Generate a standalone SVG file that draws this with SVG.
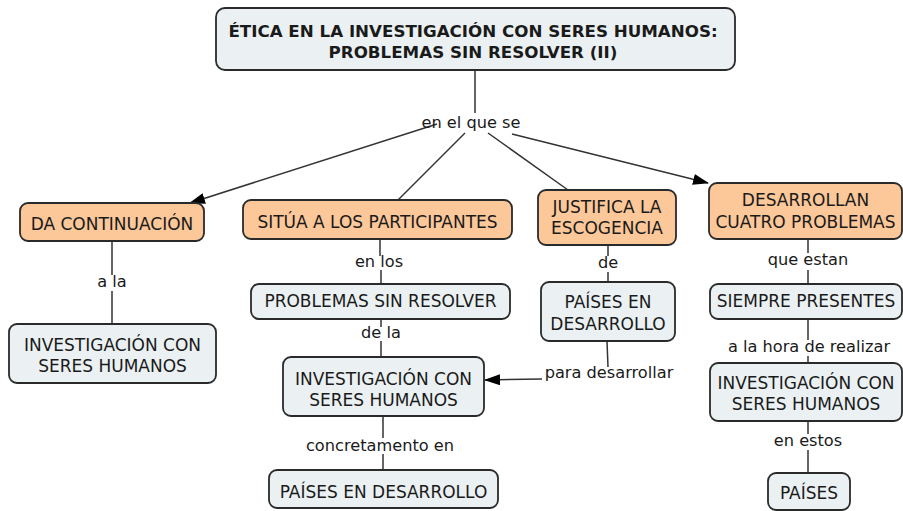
<svg xmlns="http://www.w3.org/2000/svg" width="903" height="511" viewBox="0 0 903 511">
<style>
.bg{fill:#ffffff}
.o rect{fill:#fcc799;stroke:#2a2a2a;stroke-width:1.8}
.b rect{fill:#ebf1f3;stroke:#2a2a2a;stroke-width:1.8}
text{font-family:"DejaVu Sans",Verdana,sans-serif;font-size:17px;fill:#1a1a1a;text-anchor:middle}
.t text{font-weight:bold;font-size:16.7px}
.lbl text{font-size:16.2px}
#connectors line{stroke:#333;stroke-width:1.5;fill:none}
</style>
<defs>
<marker id="arr" viewBox="0 0 16 11" refX="15" refY="5.5" markerWidth="16" markerHeight="11" markerUnits="userSpaceOnUse" orient="auto">
<path d="M0,0 L16,5.5 L0,11 Z" fill="#000"/>
</marker>
</defs>
<rect class="bg" x="0" y="0" width="903" height="511"/>
<g id="connectors">
<line x1="475" y1="70" x2="475" y2="113"/>
<line x1="437" y1="124" x2="190" y2="203" marker-end="url(#arr)"/>
<line x1="465" y1="133" x2="398" y2="200"/>
<line x1="488" y1="133" x2="568" y2="190"/>
<line x1="512" y1="134" x2="708" y2="183" marker-end="url(#arr)"/>
<line x1="112" y1="241" x2="112" y2="275"/>
<line x1="112" y1="291" x2="112" y2="324"/>
<line x1="380" y1="239" x2="380" y2="256"/>
<line x1="381" y1="270" x2="381" y2="284"/>
<line x1="381" y1="319" x2="381" y2="327"/>
<line x1="381" y1="341" x2="381" y2="357"/>
<line x1="383" y1="416" x2="383" y2="438"/>
<line x1="383" y1="454" x2="383" y2="470"/>
<line x1="608" y1="245" x2="608" y2="256"/>
<line x1="608" y1="272" x2="608" y2="282"/>
<line x1="607" y1="341" x2="608" y2="367"/>
<line x1="542" y1="379" x2="485" y2="380" marker-end="url(#arr)"/>
<line x1="808" y1="239" x2="808" y2="253"/>
<line x1="808" y1="270" x2="808" y2="284"/>
<line x1="808" y1="319" x2="808" y2="340"/>
<line x1="808" y1="356" x2="808" y2="363"/>
<line x1="808" y1="421" x2="808" y2="434"/>
<line x1="808" y1="450" x2="808" y2="473"/>
</g>
<g id="title" class="b t">
<rect x="216" y="8" width="519" height="62" rx="9"/>
<text x="473" y="37">ÉTICA EN LA INVESTIGACIÓN CON SERES HUMANOS:</text>
<text x="473" y="58">PROBLEMAS SIN RESOLVER (II)</text>
</g>
<g id="lbl-en-el-que-se" class="lbl"><text x="471" y="128">en el que se</text></g>
<g id="da-continuacion" class="o">
<rect x="20" y="203" width="184" height="38" rx="8"/>
<text x="112" y="230">DA CONTINUACIÓN</text>
</g>
<g id="situa" class="o">
<rect x="243" y="200" width="269" height="39" rx="8"/>
<text x="377.5" y="228">SITÚA A LOS PARTICIPANTES</text>
</g>
<g id="justifica" class="o">
<rect x="538" y="190" width="138" height="55" rx="8"/>
<text x="607" y="213">JUSTIFICA LA</text>
<text x="607" y="234">ESCOGENCIA</text>
</g>
<g id="desarrollan" class="o">
<rect x="709" y="183" width="193" height="56" rx="8"/>
<text x="805.5" y="206">DESARROLLAN</text>
<text x="805.5" y="228">CUATRO PROBLEMAS</text>
</g>
<g id="lbl-a-la" class="lbl"><text x="112" y="287">a la</text></g>
<g id="inv-left" class="b">
<rect x="9" y="324" width="207" height="59" rx="8"/>
<text x="112.5" y="351">INVESTIGACIÓN CON</text>
<text x="112.5" y="372">SERES HUMANOS</text>
</g>
<g id="lbl-en-los" class="lbl"><text x="379" y="267">en los</text></g>
<g id="problemas" class="b">
<rect x="251" y="284" width="259" height="35" rx="8"/>
<text x="380.5" y="307">PROBLEMAS SIN RESOLVER</text>
</g>
<g id="lbl-de-la" class="lbl"><text x="381" y="338">de la</text></g>
<g id="inv-center" class="b">
<rect x="283" y="357" width="201" height="59" rx="8"/>
<text x="383.5" y="385">INVESTIGACIÓN CON</text>
<text x="383.5" y="406">SERES HUMANOS</text>
</g>
<g id="lbl-concretamento" class="lbl"><text x="380" y="451">concretamento en</text></g>
<g id="paises-bottom" class="b">
<rect x="269" y="470" width="229" height="38" rx="8"/>
<text x="383.5" y="498">PAÍSES EN DESARROLLO</text>
</g>
<g id="lbl-de" class="lbl"><text x="608" y="268">de</text></g>
<g id="paises-desarrollo" class="b">
<rect x="541" y="282" width="134" height="59" rx="8"/>
<text x="608" y="308">PAÍSES EN</text>
<text x="608" y="330">DESARROLLO</text>
</g>
<g id="lbl-para-desarrollar" class="lbl"><text x="609" y="378">para desarrollar</text></g>
<g id="lbl-que-estan" class="lbl"><text x="808" y="265">que estan</text></g>
<g id="siempre" class="b">
<rect x="710" y="284" width="192" height="35" rx="8"/>
<text x="806" y="307">SIEMPRE PRESENTES</text>
</g>
<g id="lbl-hora" class="lbl"><text x="809" y="352">a la hora de realizar</text></g>
<g id="inv-right" class="b">
<rect x="710" y="363" width="192" height="58" rx="8"/>
<text x="806" y="389">INVESTIGACIÓN CON</text>
<text x="806" y="410">SERES HUMANOS</text>
</g>
<g id="lbl-en-estos" class="lbl"><text x="808" y="446">en estos</text></g>
<g id="paises" class="b">
<rect x="768" y="473" width="82" height="37" rx="8"/>
<text x="809" y="499">PAÍSES</text>
</g>
</svg>
